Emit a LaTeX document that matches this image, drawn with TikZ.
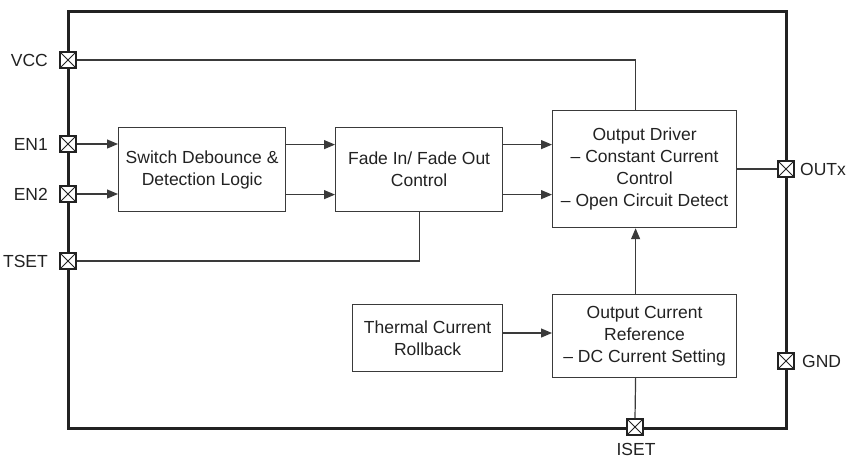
\documentclass[tikz,border=0pt]{standalone}
\usepackage{fontspec}
\setmainfont{Liberation Sans}
\usetikzlibrary{arrows.meta,calc}
\definecolor{ln}{HTML}{3A3A3A}
\definecolor{tx}{HTML}{222222}
\begin{document}
\begin{tikzpicture}[x=1pt,y=-1pt,
  font=\fontsize{17.5}{22}\selectfont, text=tx,
  blk/.style={draw=ln, line width=1.2pt, inner sep=0pt, align=center, anchor=north west},
  pinbox/.style={draw=tx, line width=1.2pt, fill=white, minimum size=16pt, inner sep=0pt,
    path picture={\draw[line width=0.9pt] (path picture bounding box.north west) -- (path picture bounding box.south east)
      (path picture bounding box.north east) -- (path picture bounding box.south west);}},
  wire/.style={draw=ln, line width=1.2pt},
  arr/.style={wire, -{Triangle[length=11pt,width=9pt]}},
  lbl/.style={inner sep=0pt}]
\useasboundingbox (0,0) rectangle (846,459);
% outer package outline
\draw[tx, line width=3pt] (68,11) rectangle (786,428);
% blocks
\node[blk, minimum width=167pt, minimum height=84pt] (sw) at (118,127) {Switch Debounce \&\\Detection Logic};
\node[blk, minimum width=167pt, minimum height=84pt] (fd) at (335,127) {Fade In/ Fade Out\\Control};
\node[blk, minimum width=184pt, minimum height=117pt] (od) at (552,110) {Output Driver\\– Constant Current\\Control\\– Open Circuit Detect};
\node[blk, minimum width=150pt, minimum height=67pt] (th) at (352,304) {Thermal Current\\Rollback};
\node[blk, minimum width=184pt, minimum height=83pt] (oc) at (552,294) {Output Current\\Reference\\– DC Current Setting};
% pins
\node[pinbox] (vcc) at (68,60) {};
\node[pinbox] (en1) at (68,144) {};
\node[pinbox] (en2) at (68,194) {};
\node[pinbox] (tset) at (68,261) {};
\node[pinbox] (outx) at (786,169) {};
\node[pinbox] (gnd) at (786,361) {};
\node[pinbox] (iset) at (635,427) {};
% pin labels
\node[lbl, anchor=east] (lvcc) at (48,60) {VCC};
\node[lbl, anchor=east] (len1) at (48,144) {EN1};
\node[lbl, anchor=east] (len2) at (48,194) {EN2};
\node[lbl, anchor=east] (ltset) at (48,261) {TSET};
\node[lbl, anchor=west] (loutx) at (800,169) {OUTx};
\node[lbl, anchor=west] (lgnd) at (802,361) {GND};
\node[lbl, anchor=base] (liset) at (636,455) {ISET};
% connections
\draw[wire] (vcc.east) -| ([xshift=-9pt]od.north);
\draw[arr] (en1.east) -- (en1.east -| sw.west);
\draw[arr] (en2.east) -- (en2.east -| sw.west);
\draw[arr] ([yshift=25pt]sw.east) -- ([yshift=25pt]fd.west);
\draw[arr] ([yshift=-25pt]sw.east) -- ([yshift=-25pt]fd.west);
\draw[arr] ([yshift=25pt]fd.east) -- ([yshift=25pt]fd.east -| od.west);
\draw[arr] ([yshift=-25pt]fd.east) -- ([yshift=-25pt]fd.east -| od.west);
\draw[wire] (tset.east) -| (fd.south);
\draw[wire] (od.east |- outx.west) -- (outx.west);
\draw[arr] (th.east |- 0,333) -- (oc.west |- 0,333);
\draw[arr] ([xshift=-9pt]oc.north) -- ([xshift=-9pt]od.south);
\draw[wire] ([xshift=-9pt]oc.south) -- (iset.north);
\end{tikzpicture}
\end{document}
